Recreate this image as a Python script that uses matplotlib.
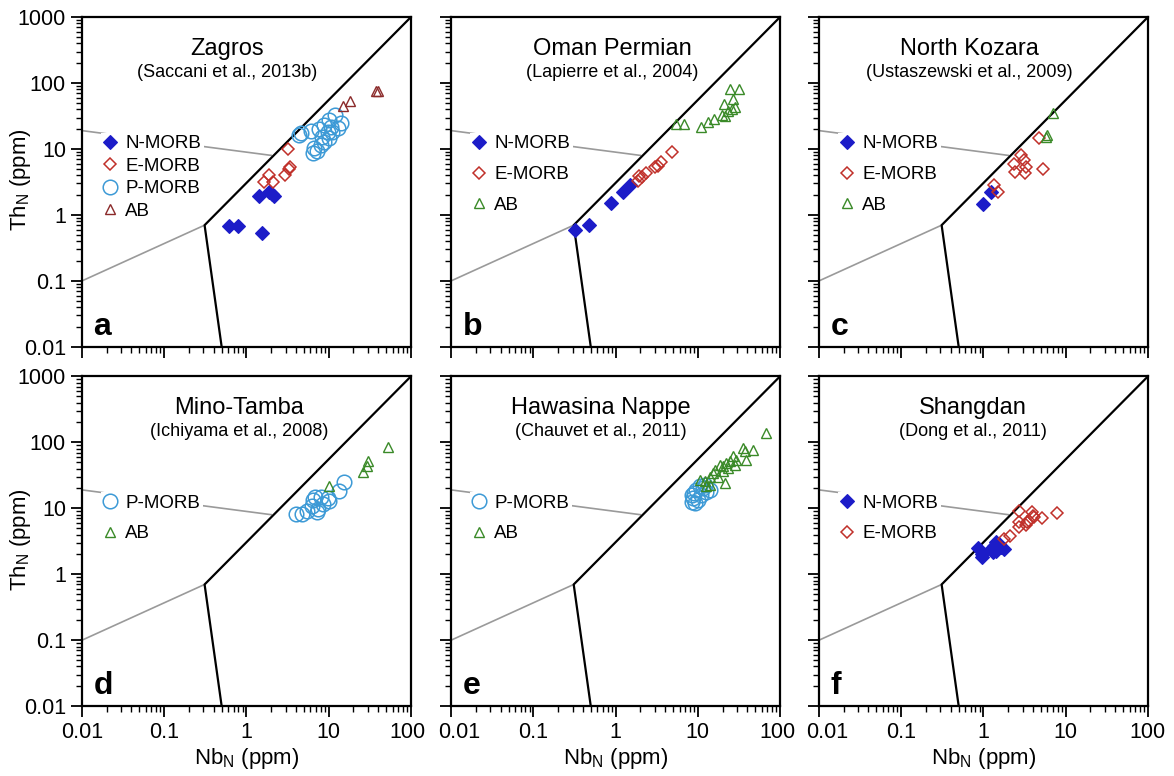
import matplotlib.pyplot as plt
import matplotlib.transforms as mtransforms
from matplotlib.ticker import LogLocator, NullFormatter, FuncFormatter

plt.rcParams['font.family'] = ['Liberation Sans', 'DejaVu Sans']
plt.rcParams['mathtext.fontset'] = 'custom'
plt.rcParams['mathtext.rm'] = 'Liberation Sans'
plt.rcParams['mathtext.default'] = 'regular'

# field boundaries of the Th_N - Nb_N diagram
bound_nb = [0.5, 0.31, 100]
bound_th = [0.01, 0.7, 1000]
grey1_nb = [0.01, 0.31]
grey1_th = [0.1, 0.7]
grey2_nb = [0.01, 2.0]
grey2_th = [19, 8]

# panel a - Zagros
a_nmorb_nb = [0.61, 0.79, 1.44, 1.87, 2.15, 1.55, 2.04]
a_nmorb_th = [0.68, 0.68, 1.96, 2.19, 1.94, 0.53, 2.08]
a_emorb_nb = [3.2, 1.87, 1.62, 2.10, 2.98, 3.39, 3.3]
a_emorb_th = [10, 4.1, 3.2, 3.2, 4.1, 5.4, 4.9]
a_pmorb_nb = [4.3, 4.6, 6.1, 7.7, 8.9, 10.2, 12, 14.1, 12.9, 10.7, 10.2, 8.3, 6.7,
              6.4, 7.3, 8.9, 8.1, 11.1, 9.8]
a_pmorb_th = [16.3, 17.3, 19, 19.8, 23, 27.5, 32.7, 24.5, 20.6, 21.8, 14.5, 15.4, 10.2,
              8.8, 9.4, 12.9, 11.5, 18.3, 18.3]
a_ab_nb = [14.8, 18.1, 37.6, 39.5]
a_ab_th = [44.8, 54, 76.5, 76.5]

# panel b - Oman Permian
b_nmorb_nb = [0.32, 0.47, 0.89, 1.24, 1.49]
b_nmorb_th = [0.60, 0.71, 1.5, 2.26, 2.85]
b_emorb_nb = [1.88, 1.94, 2.38, 3.0, 3.6, 4.9, 2.1, 3.3]
b_emorb_th = [3.3, 3.9, 4.3, 5.3, 6.3, 8.9, 3.7, 5.6]
b_ab_nb = [5.4, 6.8, 11.1, 13.3, 15.6, 19.8, 20.6, 23.4, 26.9, 28, 24.5, 31.8, 21.6, 26.4]
b_ab_th = [23.9, 23.9, 21.8, 26, 28.5, 32.7, 48, 38, 57, 42.8, 81, 81, 31.8, 40]

# panel c - North Kozara
c_nmorb_nb = [1.0, 1.22]
c_nmorb_th = [1.45, 2.19]
c_emorb_nb = [1.34, 1.52, 2.34, 2.39, 2.87, 3.09, 3.3, 3.2, 4.79, 5.25]
c_emorb_th = [2.83, 2.19, 5.9, 4.5, 8.2, 6.9, 5.3, 4.3, 14.5, 5.0]
c_ab_nb = [7.08, 5.93, 5.76]
c_ab_th = [35.3, 16.3, 15]

# panel d - Mino-Tamba
d_pmorb_nb = [4.0, 4.79, 5.4, 6.5, 6.8, 7.5, 7.2, 8.1, 9.7, 10.1, 13.4, 15.5, 6.2, 8.6]
d_pmorb_th = [8.2, 8.2, 9.2, 13.5, 14.7, 9.8, 8.9, 15, 14.2, 13.1, 18.5, 25.4, 11, 11.6]
d_ab_nb = [10.0, 25.9, 29, 30, 53]
d_ab_th = [21.5, 35, 43, 52.7, 84]

# panel e - Hawasina Nappe
e_pmorb_nb = [8.4, 8.8, 9.0, 9.6, 10.6, 12.2, 14, 11.0, 12.6, 10.1, 11.5, 9.2, 8.4]
e_pmorb_th = [12.6, 14.2, 16.9, 19, 21.4, 22.7, 19, 16, 17.9, 13.4, 20.2, 11.9, 16]
e_ab_nb = [10.6, 12.2, 14, 16.1, 18.5, 20.3, 22.2, 24.5, 26.9, 28, 21.3, 17.7, 29.4,
           35.5, 37.2, 47, 38.2, 67, 14, 15.3, 20.3, 23.4, 12.6]
e_ab_th = [27, 25.5, 30.3, 38.4, 45.7, 43.1, 48.4, 51.4, 61.2, 45.7, 24, 30.3, 54.5,
           82, 73, 77.3, 54.5, 139, 22.7, 34.1, 36.2, 40.6, 21.4]

# panel f - Shangdan
f_nmorb_nb = [0.87, 0.97, 0.95, 1.29, 1.34, 1.41, 1.48, 1.62, 1.79, 1.23, 1.41, 1.55]
f_nmorb_th = [2.48, 1.81, 2.03, 2.16, 2.72, 3.05, 2.42, 2.56, 2.42, 2.42, 2.28, 2.88]
f_emorb_nb = [2.7, 2.7, 2.7, 3.26, 3.4, 3.93, 4.1, 5.19, 7.74, 1.78, 2.08, 3.6, 4.0]
f_emorb_th = [9.2, 6.1, 5.2, 5.5, 6.1, 8.7, 7.3, 7.1, 8.5, 3.43, 3.86, 6.5, 7.75]

styles = {
    'N-MORB': dict(marker='D', ms=7, mfc='#1c1cc8', mec='#1c1cc8', mew=0.8),
    'E-MORB': dict(marker='D', ms=6, mfc='none', mec='#c0302a', mew=1.1),
    'P-MORB': dict(marker='o', ms=10.5, mfc='none', mec='#3d9ad6', mew=1.1),
    'AB': dict(marker='^', ms=7.5, mfc='none', mec='#3a8a28', mew=1.0),
}

panels = [
    ('Zagros', '(Saccani et al., 2013b)', 'a', 0.44,
     [('N-MORB', a_nmorb_nb, a_nmorb_th), ('E-MORB', a_emorb_nb, a_emorb_th),
      ('P-MORB', a_pmorb_nb, a_pmorb_th), ('AB', a_ab_nb, a_ab_th)]),
    ('Oman Permian', '(Lapierre et al., 2004)', 'b', 0.49,
     [('N-MORB', b_nmorb_nb, b_nmorb_th), ('E-MORB', b_emorb_nb, b_emorb_th),
      ('AB', b_ab_nb, b_ab_th)]),
    ('North Kozara', '(Ustaszewski et al., 2009)', 'c', 0.456,
     [('N-MORB', c_nmorb_nb, c_nmorb_th), ('E-MORB', c_emorb_nb, c_emorb_th),
      ('AB', c_ab_nb, c_ab_th)]),
    ('Mino-Tamba', '(Ichiyama et al., 2008)', 'd', 0.477,
     [('P-MORB', d_pmorb_nb, d_pmorb_th), ('AB', d_ab_nb, d_ab_th)]),
    ('Hawasina Nappe', '(Chauvet et al., 2011)', 'e', 0.456,
     [('P-MORB', e_pmorb_nb, e_pmorb_th), ('AB', e_ab_nb, e_ab_th)]),
    ('Shangdan', '(Dong et al., 2011)', 'f', 0.468,
     [('N-MORB', f_nmorb_nb, f_nmorb_th), ('E-MORB', f_emorb_nb, f_emorb_th)]),
]

fig = plt.figure(figsize=(11.74, 7.76), dpi=100)
lefts = [0.0698, 0.3842, 0.6976]
bottoms = [0.553, 0.090]
w, h = 0.2802, 0.4250

fmt = FuncFormatter(lambda v, p: '%g' % v)
bottom_axes = []

for i, (name, ref, letter, tx, series) in enumerate(panels):
    row, col = divmod(i, 3)
    ax = fig.add_axes([lefts[col], bottoms[row], w, h])
    ax.set_xscale('log')
    ax.set_yscale('log')
    ax.set_xlim(0.01, 100)
    ax.set_ylim(0.01, 1000)

    ax.plot(grey1_nb, grey1_th, color='#9a9a9a', lw=1.2, zorder=1)
    ax.plot(grey2_nb, grey2_th, color='#9a9a9a', lw=1.2, zorder=1)
    ax.plot(bound_nb, bound_th, color='black', lw=1.6, zorder=2)

    for label, nb, th in series:
        st = dict(styles[label])
        if label == 'AB' and letter == 'a':
            st['mec'] = '#8b2a2a'
        ax.plot(nb, th, ls='none', label=label, zorder=3, **st)

    spacing = 0.28 if letter == 'a' else 0.72
    leg = ax.legend(loc='upper left', bbox_to_anchor=(0.057, 0.65), fontsize=13.5,
                    frameon=True, framealpha=1, facecolor='white', edgecolor='none',
                    handlelength=0.7, handletextpad=0.45, borderpad=0.15,
                    labelspacing=spacing, borderaxespad=0, fancybox=False)
    leg.set_zorder(5)

    ax.text(tx, 0.903, name, transform=ax.transAxes, ha='center', va='center', fontsize=17)
    ax.text(tx, 0.832, ref, transform=ax.transAxes, ha='center', va='center', fontsize=13)
    ax.text(0.035, 0.036, letter, transform=ax.transAxes, ha='left', va='baseline',
            fontsize=23, fontweight='bold')

    for s in ax.spines.values():
        s.set_linewidth(1.6)
    ax.xaxis.set_major_locator(LogLocator(base=10, numticks=10))
    ax.yaxis.set_major_locator(LogLocator(base=10, numticks=10))
    ax.xaxis.set_minor_locator(LogLocator(base=10, subs=range(2, 10), numticks=10))
    ax.yaxis.set_minor_locator(LogLocator(base=10, subs=range(2, 10), numticks=10))
    ax.xaxis.set_minor_formatter(NullFormatter())
    ax.yaxis.set_minor_formatter(NullFormatter())
    ax.xaxis.set_major_formatter(fmt)
    ax.yaxis.set_major_formatter(fmt)
    ax.tick_params(which='major', direction='out', length=8, width=1.3, labelsize=15.5)
    ax.tick_params(which='minor', direction='out', length=4, width=1.0)

    if col == 0:
        ax.set_ylabel('Th$_N$ (ppm)', fontsize=16)
        ax.yaxis.set_label_coords(-0.15, 0.506)
    else:
        ax.tick_params(axis='y', labelleft=False)
    if row == 1:
        ax.set_xlabel('Nb$_N$ (ppm)', fontsize=16, labelpad=2)
        bottom_axes.append((col, ax))
    else:
        ax.tick_params(axis='x', labelbottom=False)

# nudge the end labels apart where neighbouring panels meet
fig.canvas.draw()
for col, ax in bottom_axes:
    ticks = ax.xaxis.get_major_ticks()
    locs = ax.xaxis.get_majorticklocs()
    for t, v in zip(ticks, locs):
        if abs(v - 0.01) < 1e-9 and col > 0:
            t.label1.set_transform(t.label1.get_transform() +
                                   mtransforms.ScaledTranslation(0.08, 0, fig.dpi_scale_trans))
        if abs(v - 100) < 1e-6 and col < 2:
            t.label1.set_transform(t.label1.get_transform() +
                                   mtransforms.ScaledTranslation(-0.03, 0, fig.dpi_scale_trans))

fig.savefig('out.png', dpi=100)
